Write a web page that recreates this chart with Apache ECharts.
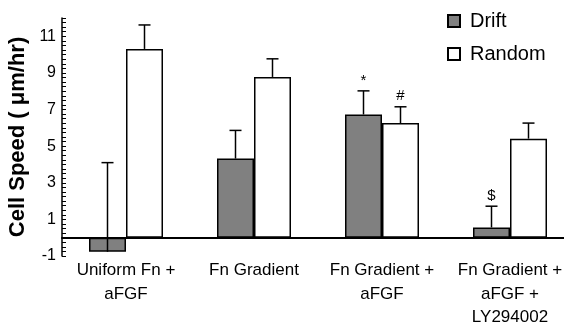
<!DOCTYPE html>
<html>
<head>
<meta charset="utf-8">
<script src="https://cdn.jsdelivr.net/npm/echarts@6/dist/echarts.min.js"></script>
<style>
  html, body { margin: 0; padding: 0; background: #fff; }
  #speedChart { width: 564px; height: 326px; }
</style>
</head>
<body>
<div id="speedChart"></div>
<script>
const categories = ['Uniform Fn +\naFGF', 'Fn Gradient', 'Fn Gradient +\naFGF', 'Fn Gradient +\naFGF +\nLY294002']
const driftSpeed = [-0.77, 4.32, 6.73, 0.56]
const driftError = [4.87, 1.54, 1.29, 1.16]
const driftMarks = ['', '', '*', '$']
const randomSpeed = [10.31, 8.78, 6.26, 5.41]
const randomError = [1.31, 0.99, 0.89, 0.85]
const randomMarks = ['', '', '#', '']

const FONT = 'Liberation Sans, Arial, sans-serif'
const BAR_W = 37

// error bar with cap, shifted to the matching bar
function errorBars(offset) {
  return function (params, api) {
    const i = api.value(0)
    const v = api.value(1)
    const e = api.value(2)
    const mark = api.value(3)
    const base = api.coord([i, v])
    const top = api.coord([i, v + e])
    const x = base[0] + offset
    const children = [
      { type: 'line', shape: { x1: x, y1: base[1], x2: x, y2: top[1] }, style: { stroke: '#000', lineWidth: 1.5 } },
      { type: 'line', shape: { x1: x - 6, y1: top[1], x2: x + 6, y2: top[1] }, style: { stroke: '#000', lineWidth: 1.5 } }
    ]
    if (mark) {
      children.push({
        type: 'text',
        style: { text: mark, x: x, y: top[1] - 3, align: 'center', verticalAlign: 'bottom', font: '15px ' + FONT, fill: '#000' }
      })
    }
    return { type: 'group', children: children }
  }
}

const chart = echarts.init(document.getElementById('speedChart'))
chart.setOption({
  animation: false,
  textStyle: { fontFamily: FONT },
  legend: {
    data: ['Drift', 'Random'],
    orient: 'vertical',
    left: 442,
    top: 6,
    icon: 'rect',
    itemWidth: 12,
    itemHeight: 12,
    itemGap: 13,
    textStyle: { color: '#000', fontSize: 20, fontFamily: FONT, padding: [0, 0, 0, 5] }
  },
  grid: {
    left: 62,
    top: 18,
    width: 512,
    height: 238,
    outerBoundsMode: 'none'
  },
  xAxis: {
    type: 'category',
    data: categories,
    axisLine: { onZero: true, lineStyle: { color: '#000', width: 2 } },
    axisTick: { show: false },
    axisLabel: {
      color: '#000',
      fontSize: 17,
      lineHeight: 23.5,
      margin: 3,
      interval: 0,
      fontFamily: FONT
    }
  },
  yAxis: {
    type: 'value',
    min: -1,
    max: 12,
    interval: 1,
    name: 'Cell Speed ( \u03bcm/hr)',
    nameLocation: 'middle',
    nameGap: 25,
    nameTextStyle: { color: '#000', fontSize: 22, fontWeight: 'bold', fontFamily: FONT },
    axisLine: { show: true, lineStyle: { color: '#000', width: 1.5 } },
    axisTick: { show: true, inside: true, length: 4, lineStyle: { color: '#000', width: 1 } },
    minorTick: { show: true, splitNumber: 4, length: 4, lineStyle: { color: '#000', width: 1 } },
    splitLine: { show: false },
    axisLabel: {
      color: '#000',
      fontSize: 16,
      margin: 6,
      fontFamily: FONT,
      formatter(val) {
        const r = Math.round(val)
        return Math.abs(r % 2) === 1 ? String(r) : ''
      }
    }
  },
  series: [
    {
      name: 'Drift',
      type: 'bar',
      barWidth: BAR_W,
      barGap: '0%',
      itemStyle: { color: '#808080', borderColor: '#000', borderWidth: 1.5 },
      data: driftSpeed
    },
    {
      name: 'Random',
      type: 'bar',
      barWidth: BAR_W,
      barGap: '0%',
      itemStyle: { color: '#fff', borderColor: '#000', borderWidth: 1.5 },
      data: randomSpeed
    },
    {
      name: 'driftErr',
      type: 'custom',
      z: 5,
      renderItem: errorBars(-BAR_W / 2),
      encode: { x: 0, y: [1, 2] },
      data: driftSpeed.map((v, i) => [i, v, driftError[i], driftMarks[i]])
    },
    {
      name: 'randomErr',
      type: 'custom',
      z: 5,
      renderItem: errorBars(BAR_W / 2),
      encode: { x: 0, y: [1, 2] },
      data: randomSpeed.map((v, i) => [i, v, randomError[i], randomMarks[i]])
    }
  ]
})
</script>
</body>
</html>
